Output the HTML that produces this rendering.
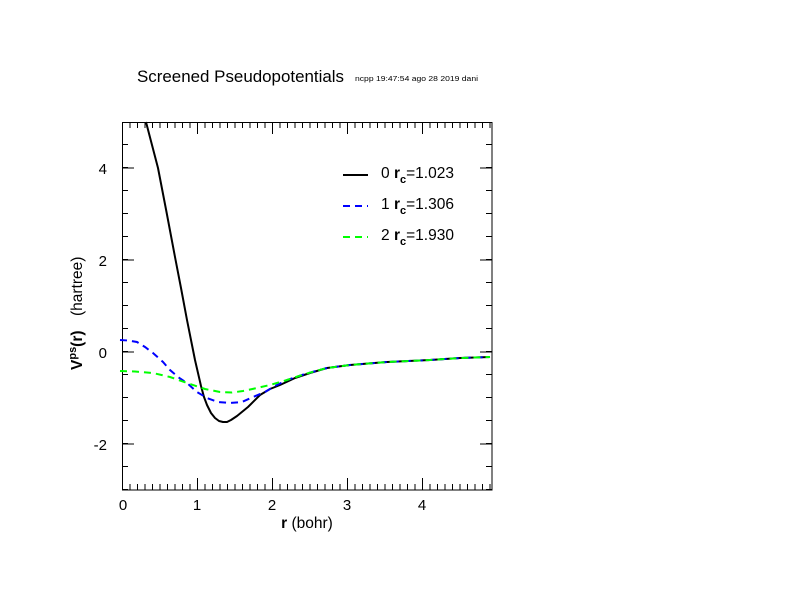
<!DOCTYPE html>
<html><head><meta charset="utf-8"><style>
html,body{margin:0;padding:0;background:#fff;}
svg{display:block;font-family:"Liberation Sans",Arial,sans-serif;}
</style></head><body>
<svg width="792" height="612" viewBox="0 0 792 612" xmlns="http://www.w3.org/2000/svg">
<rect width="792" height="612" fill="#fff"/>
<text x="137" y="82" font-size="16.5" fill="#000" textLength="207" lengthAdjust="spacingAndGlyphs">Screened Pseudopotentials</text>
<text x="355" y="81" font-size="7.5" fill="#000" textLength="123" lengthAdjust="spacingAndGlyphs">ncpp 19:47:54 ago 28 2019 dani</text>
<rect x="122.5" y="122.5" width="369.5" height="367.5" fill="none" stroke="#000" stroke-width="1"/>
<g stroke="#000">
<line x1="122" y1="487" x2="492" y2="487" stroke-width="6" stroke-dasharray="1 6.5"/>
<line x1="122" y1="484" x2="492" y2="484" stroke-width="12" stroke-dasharray="1 74"/>
<line x1="122" y1="125" x2="492" y2="125" stroke-width="6" stroke-dasharray="1 6.5"/>
<line x1="122" y1="128" x2="492" y2="128" stroke-width="12" stroke-dasharray="1 74"/>
<line x1="125" y1="490" x2="125" y2="122" stroke-width="6" stroke-dasharray="1 22"/>
<line x1="128" y1="444.5" x2="128" y2="122" stroke-width="12" stroke-dasharray="1 91"/>
<line x1="489" y1="490" x2="489" y2="122" stroke-width="6" stroke-dasharray="1 22"/>
<line x1="486" y1="444.5" x2="486" y2="122" stroke-width="12" stroke-dasharray="1 91"/>
</g>
<g font-size="15" fill="#000">
<text x="123" y="510" text-anchor="middle">0</text>
<text x="197" y="510" text-anchor="middle">1</text>
<text x="272" y="510" text-anchor="middle">2</text>
<text x="347" y="510" text-anchor="middle">3</text>
<text x="422" y="510" text-anchor="middle">4</text>
<text x="107" y="174" text-anchor="end">4</text>
<text x="107" y="266" text-anchor="end">2</text>
<text x="107" y="358" text-anchor="end">0</text>
<text x="107" y="450" text-anchor="end">-2</text>
</g>
<text x="307" y="528" font-size="15.5" text-anchor="middle"><tspan font-weight="bold">r</tspan> (bohr)</text>
<text transform="translate(82,370) rotate(-90)" font-size="15.5" text-anchor="start"><tspan font-weight="bold">V</tspan><tspan font-weight="bold" font-size="11" dy="-6">ps</tspan><tspan font-weight="bold" dy="6">(r)</tspan></text>
<text transform="translate(82,316) rotate(-90)" font-size="15.5" text-anchor="start">(hartree)</text>
<polyline fill="none" stroke="#000" stroke-width="2" stroke-linejoin="round" points="146,122 152,145 158,168 166.5,212 175,257 181,288 187,320 192,345 195,360 198,373 201,386 204,397 207,405 211,413 215,418 219,421 223,422 227,422 231,420 237,416 248,407 260,395 270,389 280,385 295,378 310,373 327,368 350,365 387,362 430,360 460,358 490,357"/>
<polyline fill="none" stroke="#0000ff" stroke-width="2" stroke-dasharray="7 5" points="120,340 128,340.5 137,342 145,347 153,353 163,362 170,370 178,377 187,383 197,392 207,398 218,402 230,403 242,402 253,397 265,392 275,386 287,380 305,374 327,368 350,365 387,362 430,360 460,358 490,357"/>
<polyline fill="none" stroke="#00ff00" stroke-width="2" stroke-dasharray="7 5" points="120,371 135,371.5 153,373 170,377 187,383 205,389 220,392 232,392.5 243,391 257,388 270,385 287,380 305,374 327,368 350,365 387,362 430,360 460,358 490,357"/>
<line x1="343" y1="175" x2="368" y2="175" stroke="#000" stroke-width="2"/>
<line x1="343" y1="206" x2="368" y2="206" stroke="#0000ff" stroke-width="2" stroke-dasharray="7 5"/>
<line x1="343" y1="237" x2="368" y2="237" stroke="#00ff00" stroke-width="2" stroke-dasharray="7 5"/>
<g font-size="15.5" fill="#000">
<text x="381" y="178">0 <tspan font-weight="bold">r</tspan><tspan font-size="11" font-weight="bold" dy="5">c</tspan><tspan dy="-5">=1.023</tspan></text>
<text x="381" y="209">1 <tspan font-weight="bold">r</tspan><tspan font-size="11" font-weight="bold" dy="5">c</tspan><tspan dy="-5">=1.306</tspan></text>
<text x="381" y="240">2 <tspan font-weight="bold">r</tspan><tspan font-size="11" font-weight="bold" dy="5">c</tspan><tspan dy="-5">=1.930</tspan></text>
</g>
</svg>
</body></html>
